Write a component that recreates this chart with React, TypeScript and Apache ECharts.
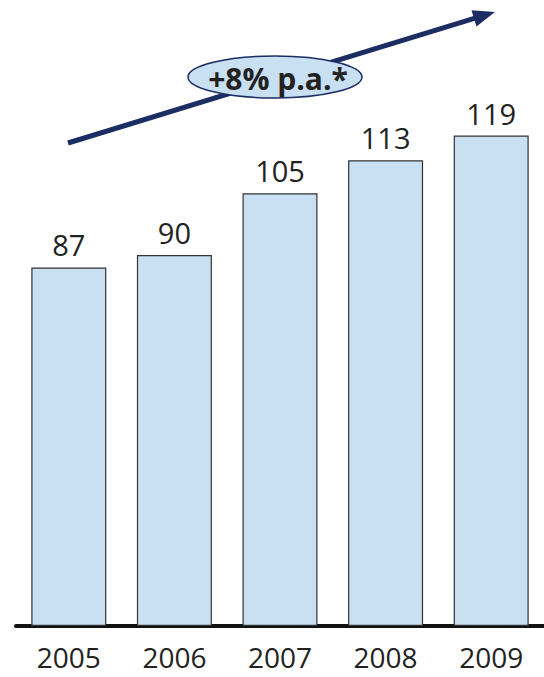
import React, { useEffect, useRef } from "react";
import * as echarts from "echarts";

const years = ["2005", "2006", "2007", "2008", "2009"];
const values = [87, 90, 105, 113, 119];
const growthLabel = "+8% p.a.*";

export default function App() {
  const ref = useRef<HTMLDivElement>(null);
  useEffect(() => {
    const chart = echarts.init(ref.current!, null, { renderer: "svg" });
    const navy = "#1c2d63";
    const tip = [495, 12];
    const tail = [68, 143];
    const dx = tip[0] - tail[0];
    const dy = tip[1] - tail[1];
    const len = Math.sqrt(dx * dx + dy * dy);
    const ux = dx / len, uy = dy / len;
    const nx = -uy, ny = ux;
    const hl = 22, hw = 8.5;
    const bx = tip[0] - hl * ux, by = tip[1] - hl * uy;
    chart.setOption({
      animation: false,
      grid: { left: 16, right: 0, top: 49, bottom: 51 },
      xAxis: {
        type: "category",
        data: years,
        axisTick: { show: false },
        axisLine: { lineStyle: { color: "#111", width: 4 } },
        axisLabel: {
          fontSize: 28,
          lineHeight: 26,
          color: "#222",
          fontFamily: "Open Sans, Noto Sans, sans-serif",
          margin: 18,
        },
      },
      yAxis: {
        type: "value",
        min: 0,
        max: 140,
        show: false,
        splitLine: { show: false },
      },
      series: [
        {
          type: "bar",
          data: values,
          barCategoryGap: "29%",
          itemStyle: { color: "#c9dff2", borderColor: "#333", borderWidth: 1.2 },
          label: {
            show: true,
            position: "top",
            distance: 8,
            fontSize: 29,
            color: "#222",
            fontFamily: "Open Sans, Noto Sans, sans-serif",
          },
        },
      ],
      graphic: [
        {
          type: "line",
          shape: { x1: tail[0], y1: tail[1], x2: bx + 2 * ux, y2: by + 2 * uy },
          style: { stroke: navy, lineWidth: 5 },
          z: 10,
        },
        {
          type: "polygon",
          shape: {
            points: [
              tip,
              [bx + hw * nx, by + hw * ny],
              [bx - hw * nx, by - hw * ny],
            ],
          },
          style: { fill: navy },
          z: 10,
        },
        {
          type: "ellipse",
          shape: { cx: 275, cy: 77, rx: 87, ry: 21 },
          style: { fill: "#c9dff2", stroke: navy, lineWidth: 1.5 },
          z: 11,
        },
        {
          type: "text",
          x: 278,
          y: 78,
          style: {
            text: growthLabel,
            fontSize: 30,
            fontWeight: "bold",
            fill: "#222",
            fontFamily: "Open Sans, Noto Sans, sans-serif",
            align: "center",
            verticalAlign: "middle",
          },
          z: 12,
        },
      ],
    });
    return () => chart.dispose();
  }, []);
  return <div ref={ref} style={{ width: 544, height: 677, position: "absolute", left: 0, top: 0 }} />;
}
